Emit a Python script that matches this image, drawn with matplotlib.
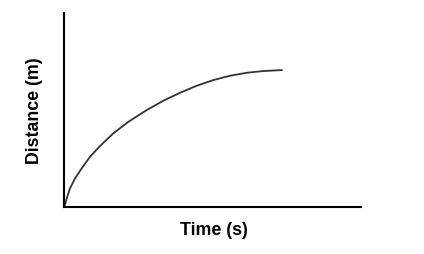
import matplotlib

matplotlib.use("Agg")
import matplotlib.pyplot as plt

# Curve (arbitrary units, axes span 0..10).
time_s = [0.0, 0.081, 0.192, 0.361, 0.586, 0.866, 1.203, 1.651, 2.147,
          2.777, 3.337, 3.900, 4.462, 5.022, 5.585, 6.148, 6.707, 7.327]
distance_m = [0.0, 0.434, 0.950, 1.466, 1.982, 2.581, 3.134, 3.789, 4.373,
              4.992, 5.472, 5.885, 6.247, 6.541, 6.763, 6.918, 7.006, 7.057]

x_label = "Time (s)"
y_label = "Distance (m)"

plt.rcParams["font.family"] = ["Liberation Sans", "DejaVu Sans"]

fig = plt.figure(figsize=(4.24, 2.54), dpi=100)
ax = fig.add_axes([0.1517, 0.186, 0.6998, 0.7626])
ax.plot(time_s, distance_m, color="#333333", linewidth=1.3,
        solid_joinstyle="round")
ax.set_xlim(0, 10)
ax.set_ylim(0, 10)
for side in ("top", "right"):
    ax.spines[side].set_visible(False)
for side in ("left", "bottom"):
    ax.spines[side].set_linewidth(1.5)
    ax.spines[side].set_color("black")
ax.set_xticks([])
ax.set_yticks([])

fig.text(0.505, 0.094, x_label, ha="center", va="center",
         fontsize=12.8, fontweight="bold")
fig.text(0.081, 0.564, y_label, ha="center", va="center", rotation=90,
         fontsize=12.8, fontweight="bold")

fig.savefig("out.png", dpi=100)
